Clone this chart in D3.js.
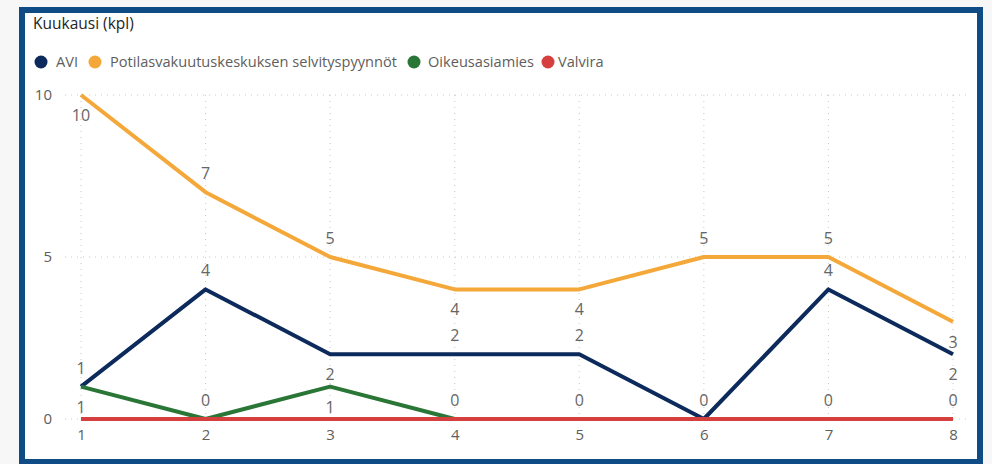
<!DOCTYPE html>
<html>
<head>
<meta charset="utf-8">
<script src="https://cdn.jsdelivr.net/npm/d3@7"></script>
<style>
  html, body { margin: 0; padding: 0; background: #f7f7f7; }
  svg { display: block; }
  text { font-family: "Open Sans", "Noto Sans", sans-serif; }
</style>
</head>
<body>
<svg id="chart" width="992" height="464"></svg>
<script>
// data
const months = [1, 2, 3, 4, 5, 6, 7, 8];
const yTicks = [0, 5, 10];
const seriesNames = ["AVI", "Potilasvakuutuskeskuksen selvityspyynnöt", "Oikeusasiamies", "Valvira"];
const aviValues = [1, 4, 2, 2, 2, 0, 4, 2];
const potilasValues = [10, 7, 5, 4, 4, 5, 5, 3];
const oikeusValues = [1, 0, 1, 0];
const valviraValues = [0, 0, 0, 0, 0, 0, 0, 0];
// label placement per point: 1 above, -1 below, 0 hidden
const aviLabels = [1, 1, -1, 1, 1, 1, 1, -1];
const potilasLabels = [-1, 1, 1, -1, -1, 1, 1, -1];
const oikeusLabels = [-1, 1, -1, 1];
const valviraLabels = [0, 0, 0, 0, 1, 0, 1, 1];

const colors = ["#0c2a5b", "#f5a83a", "#2a7636", "#d5403f"];

const series = [
  { name: seriesNames[0], values: aviValues, labels: aviLabels, color: colors[0] },
  { name: seriesNames[1], values: potilasValues, labels: potilasLabels, color: colors[1] },
  { name: seriesNames[2], values: oikeusValues, labels: oikeusLabels, color: colors[2] },
  { name: seriesNames[3], values: valviraValues, labels: valviraLabels, color: colors[3] }
];

const svg = d3.select("#chart");

// frame
svg.append("rect")
  .attr("x", 22).attr("y", 10)
  .attr("width", 958).attr("height", 452)
  .attr("fill", "#fff")
  .attr("stroke", "#0f4c86")
  .attr("stroke-width", 6);

svg.append("text")
  .attr("x", 33).attr("y", 29)
  .style("font-size", "15.5px")
  .style("font-weight", 500)
  .attr("fill", "#252423")
  .text("Kuukausi (kpl)");

// legend
const legend = svg.append("g").attr("transform", "translate(0, 62)");
const legendX = [41, 95, 414, 548];
const textX = [56, 110, 428, 558];
series.forEach((s, i) => {
  legend.append("circle").attr("cx", legendX[i]).attr("cy", 0).attr("r", 6.5).attr("fill", s.color);
  legend.append("text")
    .attr("x", textX[i]).attr("y", 0)
    .attr("dy", "0.35em")
    .style("font-size", "14.6px")
    .attr("fill", "#605e5c")
    .text(s.name);
});

const x = d3.scaleLinear().domain([1, 8]).range([81, 953]);
const y = d3.scaleLinear().domain([0, 10]).range([419, 95]);

// gridlines
const grid = svg.append("g")
  .attr("stroke", "#c8c8c8")
  .attr("stroke-width", 1)
  .attr("stroke-dasharray", "1,5");
grid.selectAll(".hg").data(yTicks).join("line")
  .attr("x1", 65).attr("x2", 966)
  .attr("y1", d => y(d)).attr("y2", d => y(d));
grid.selectAll(".vg").data(months).join("line")
  .attr("x1", d => x(d)).attr("x2", d => x(d))
  .attr("y1", y(10)).attr("y2", y(0));

// axes
const yAxis = svg.append("g")
  .attr("transform", "translate(52,0)")
  .call(d3.axisLeft(y).tickValues(yTicks).tickSize(0).tickPadding(0))
  .attr("font-size", 15);
yAxis.select(".domain").remove();
yAxis.selectAll("text").style("font-size", "15px").attr("fill", "#605e5c");

const xAxis = svg.append("g")
  .attr("transform", `translate(0,${y(0) + 10})`)
  .call(d3.axisBottom(x).tickValues(months).tickFormat(d3.format("d")).tickSize(0).tickPadding(0))
  .attr("font-size", 15);
xAxis.select(".domain").remove();
xAxis.selectAll("text").style("font-size", "15px").attr("fill", "#605e5c");

// lines
const line = d3.line()
  .x((d, i) => x(months[i]))
  .y(d => y(d));

const g = svg.append("g");
series.forEach(s => {
  g.append("path")
    .datum(s.values)
    .attr("fill", "none")
    .attr("stroke", s.color)
    .attr("stroke-width", 4)
    .attr("stroke-linejoin", "round")
    .attr("d", line);
});

// data labels
const labels = svg.append("g");
series.forEach(s => {
  labels.selectAll(null)
    .data(s.values.map((v, i) => ({ v, i, pos: s.labels[i] })).filter(d => d.pos !== 0))
    .join("text")
    .attr("x", d => x(months[d.i]))
    .attr("y", d => d.pos > 0 ? y(d.v) - 13 : y(d.v) + 26)
    .attr("text-anchor", "middle")
    .style("font-size", "16px")
    .attr("fill", "#666")
    .text(d => d.v);
});
</script>
</body>
</html>
